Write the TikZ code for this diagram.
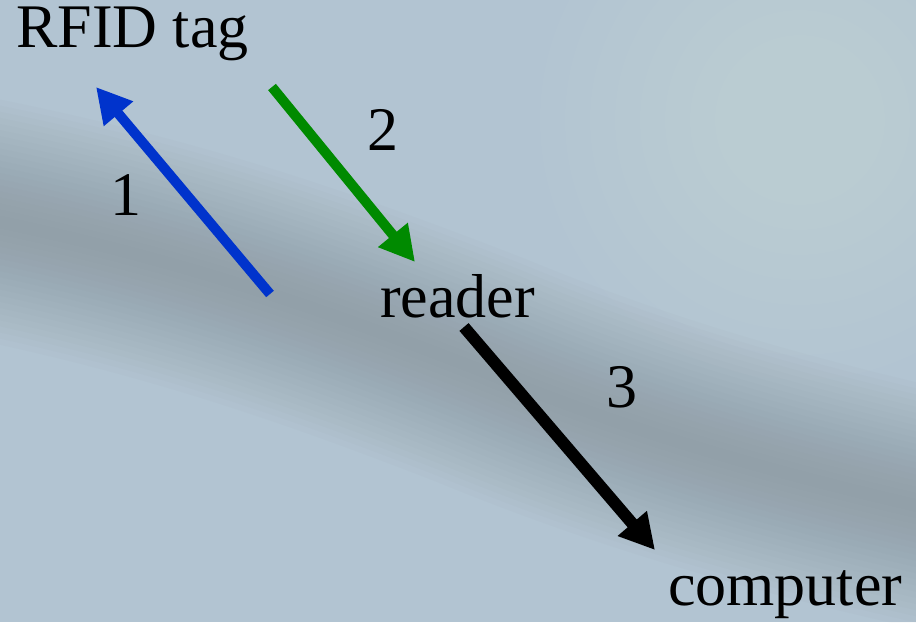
\documentclass[tikz,border=0pt]{standalone}
\usepackage{fontspec}
\setmainfont{Liberation Serif}
\usetikzlibrary{arrows.meta}
\definecolor{bgbase}{HTML}{B2C4D2}
\definecolor{bgdark}{HTML}{7E8990}
\definecolor{arrblue}{HTML}{0033CC}
\definecolor{arrgreen}{HTML}{008A00}
\tikzset{
  lbl/.style={inner sep=0pt, anchor=base west, font=\fontsize{62}{62}\selectfont, text=black},
  num/.style={inner sep=0pt, anchor=base, font=\fontsize{62}{62}\selectfont, text=black},
  flow/.style={line width=10pt, -{Triangle[length=35pt,width=36pt]}},
  band/.style={line cap=round, draw=bgdark, opacity=0.035},
  glow/.style={fill=white, opacity=0.02}
}
\begin{document}
\begin{tikzpicture}[x=1pt,y=-1pt]
\useasboundingbox (0,0) rectangle (916,622);
\fill[bgbase] (0,0) rectangle (916,622);
\begin{scope}
\clip (0,0) rectangle (916,622);
\foreach \r in {260,235,210,185,160,135,110,85} {
  \fill[glow] (800,120) circle (\r pt);
}
\foreach \w in {240,228,216,204,192,180,168,156,144,132,120,108,96,84,72,60,48,36,24,12} {
  \draw[band, line width=\w pt] (-60,210) .. controls (150,250) and (300,300) .. (480,370) .. controls (650,440) and (800,480) .. (980,520);
}
\end{scope}
% texts
\node[lbl] (tag) at (16,47) {RFID tag};
\node[lbl] (reader) at (380,317) {reader};
\node[lbl] (computer) at (668,605) {computer};
\node[num] (n1) at (126,215) {1};
\node[num] (n2) at (383,150) {2};
\node[num] (n3) at (622,407) {3};
% arrow ends
\coordinate (b0) at (270,294);
\coordinate (b1) at (96,87);
\coordinate (g0) at (272,87);
\coordinate (g1) at (415,262);
\coordinate (k0) at (464,327);
\coordinate (k1) at (655,550);
\draw[flow, draw=arrblue, fill=arrblue] (b0) -- (b1);
\draw[flow, draw=arrgreen, fill=arrgreen] (g0) -- (g1);
\draw[flow, line width=12pt, draw=black, fill=black] (k0) -- (k1);
\end{tikzpicture}
\end{document}
